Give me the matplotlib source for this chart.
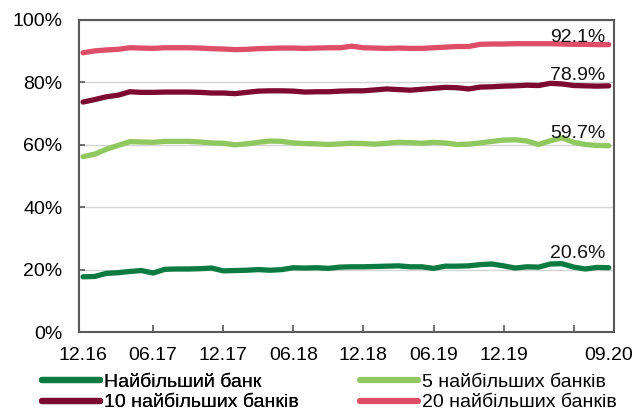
import matplotlib
matplotlib.use("Agg")
import matplotlib.pyplot as plt

plt.rcParams['font.family'] = ['Liberation Sans', 'DejaVu Sans']

months = ['12.16', '01.17', '02.17', '03.17', '04.17', '05.17', '06.17', '07.17', '08.17', '09.17',
          '10.17', '11.17', '12.17', '01.18', '02.18', '03.18', '04.18', '05.18', '06.18', '07.18',
          '08.18', '09.18', '10.18', '11.18', '12.18', '01.19', '02.19', '03.19', '04.19', '05.19',
          '06.19', '07.19', '08.19', '09.19', '10.19', '11.19', '12.19', '01.20', '02.20', '03.20',
          '04.20', '05.20', '06.20', '07.20', '08.20', '09.20']

top1 = [17.7, 17.8, 18.8, 19.0, 19.4, 19.7, 18.9, 20.1, 20.2, 20.2, 20.3, 20.5, 19.6, 19.7, 19.8,
        20.0, 19.8, 20.0, 20.6, 20.5, 20.6, 20.4, 20.8, 20.9, 20.9, 21.0, 21.1, 21.2, 20.9, 20.9,
        20.4, 21.1, 21.1, 21.2, 21.6, 21.8, 21.2, 20.5, 20.9, 20.8, 21.8, 21.9, 20.8, 20.2, 20.7, 20.6]
top5 = [56.2, 57.0, 58.6, 59.8, 61.0, 60.9, 60.8, 61.1, 61.1, 61.1, 60.9, 60.6, 60.5, 60.0, 60.3,
        60.8, 61.2, 61.1, 60.6, 60.4, 60.3, 60.1, 60.3, 60.5, 60.4, 60.2, 60.5, 60.8, 60.7, 60.5,
        60.8, 60.6, 60.1, 60.2, 60.6, 61.1, 61.5, 61.6, 61.2, 60.1, 61.3, 62.2, 60.8, 60.1, 59.8, 59.7]
top10 = [73.7, 74.5, 75.4, 75.9, 77.0, 76.8, 76.8, 76.9, 76.9, 76.9, 76.8, 76.6, 76.6, 76.4, 76.8,
         77.2, 77.3, 77.3, 77.2, 76.9, 77.0, 77.0, 77.2, 77.3, 77.3, 77.6, 77.9, 77.7, 77.5, 77.8,
         78.1, 78.4, 78.3, 77.9, 78.5, 78.6, 78.8, 78.9, 79.1, 79.0, 79.7, 79.5, 79.0, 78.9, 78.8, 78.9]
top20 = [89.5, 90.1, 90.4, 90.6, 91.1, 91.0, 90.9, 91.1, 91.1, 91.1, 91.0, 90.8, 90.7, 90.5, 90.6,
         90.8, 90.9, 91.0, 91.0, 90.9, 91.0, 91.1, 91.1, 91.6, 91.1, 91.0, 90.9, 91.0, 90.9, 90.9,
         91.1, 91.3, 91.5, 91.5, 92.2, 92.3, 92.3, 92.4, 92.4, 92.4, 92.4, 92.3, 92.2, 92.2, 92.1, 92.1]

series_labels = ['Найбільший банк', '5 найбільших банків', '10 найбільших банків', '20 найбільших банків']
end_labels = ['20.6%', '59.7%', '78.9%', '92.1%']
tick_labels = ['12.16', '06.17', '12.17', '06.18', '12.18', '06.19', '12.19', '09.20']
y_ticks = [0, 20, 40, 60, 80, 100]

colors = ['#0b7b41', '#8fc85f', '#7d0a30', '#de4e67']
label_dy = [10, 8, 6, 2.5]
FS = 14

fig = plt.figure(figsize=(6.36, 4.13), dpi=100)
ax = fig.add_axes([0.1242, 0.1961, 0.8412, 0.7555])

x = list(range(len(months)))
data = [top1, top5, top10, top20]
handles = []
for vals, col, lab, el, dy in zip(data, colors, series_labels, end_labels, label_dy):
    ln, = ax.plot(x, vals, color=col, lw=3.8, solid_capstyle='round', solid_joinstyle='round', label=lab, zorder=3)
    handles.append(ln)
    ax.annotate(el, xy=(x[-1], vals[-1]), xytext=(-3, dy), textcoords='offset pixels',
                ha='right', va='baseline', fontsize=FS, color='#111111', zorder=4)

ax.set_ylim(0, 100)
ax.set_xlim(-0.35, len(months) - 1 + 0.45)
ax.set_yticks(y_ticks)
ax.set_yticklabels([f'{v}%' for v in y_ticks])
ax.yaxis.grid(True, color='#d4d4d4', lw=1.0, zorder=0)
ax.set_axisbelow(True)

label_pos = [months.index(t) for t in tick_labels]
ax.set_xticks(label_pos)
ax.set_xticklabels(tick_labels)
minor_pos = [i for i in range(6, len(months), 6) if i not in label_pos]
ax.set_xticks(minor_pos, minor=True)
ax.tick_params(axis='x', which='both', direction='in', length=5, width=1.2, color='#595959',
               labelsize=FS, pad=11)
ax.tick_params(axis='y', direction='in', length=4, width=1.2, color='#595959', labelsize=FS, pad=12)
for t in ax.xaxis.get_major_ticks():
    if t.get_loc() in (0, len(months) - 1):
        t.tick1line.set_visible(False)
for s in ax.spines.values():
    s.set_color('#595959')
    s.set_linewidth(1.5)

leg_kw = dict(loc='upper left', frameon=False, fontsize=FS, handlelength=3.0, handletextpad=0.2,
              labelspacing=0.15, borderaxespad=0, borderpad=0)
leg1 = fig.legend([handles[0], handles[2]], [series_labels[0], series_labels[2]],
                  bbox_to_anchor=(0.066, 0.096), **leg_kw)
fig.add_artist(leg1)
leg2 = fig.legend([handles[1], handles[3]], [series_labels[1], series_labels[3]],
                  bbox_to_anchor=(0.566, 0.096), **leg_kw)
for leg in (leg1, leg2):
    for h in leg.legend_handles:
        h.set_linewidth(4.5)

fig.savefig('out.png', dpi=100)
